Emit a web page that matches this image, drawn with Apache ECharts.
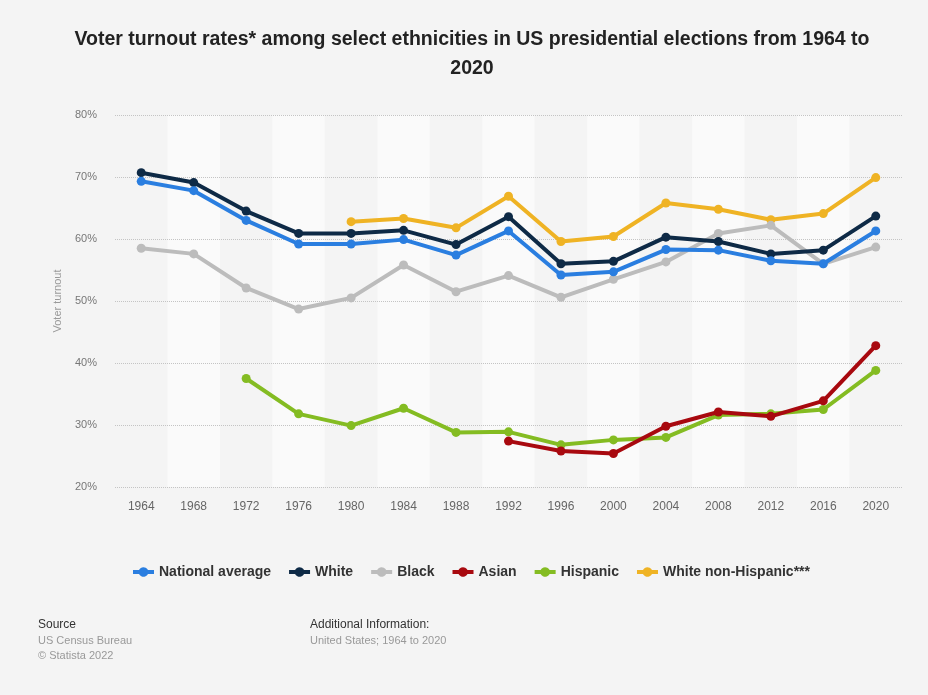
<!DOCTYPE html>
<html><head><meta charset="utf-8">
<script src="https://cdn.jsdelivr.net/npm/echarts@6/dist/echarts.min.js"></script>
<style>html,body{margin:0;padding:0;background:#f4f4f4}#c{width:928px;height:695px}</style>
</head><body><div id="c"></div>
<script>
var years = ['1964','1968','1972','1976','1980','1984','1988','1992','1996','2000','2004','2008','2012','2016','2020'];
var national = [69.3,67.8,63.0,59.2,59.2,59.9,57.4,61.3,54.2,54.7,58.3,58.2,56.5,56.0,61.3];
var white = [70.7,69.1,64.5,60.9,60.9,61.4,59.1,63.6,56.0,56.4,60.3,59.6,57.6,58.2,63.7];
var black = [58.5,57.6,52.1,48.7,50.5,55.8,51.5,54.1,50.6,53.5,56.3,60.9,62.2,56.0,58.7];
var asian = [null,null,null,null,null,null,null,27.4,25.8,25.4,29.8,32.1,31.4,33.9,42.8];
var hispanic = [null,null,37.5,31.8,29.9,32.7,28.8,28.9,26.8,27.6,28.0,31.6,31.8,32.5,38.8];
var whiteNonHisp = [null,null,null,null,62.8,63.3,61.8,66.9,59.6,60.4,65.8,64.8,63.1,64.1,69.9];
var yTicks = ['20%','30%','40%','50%','60%','70%','80%'];

var names = ['National average','White','Black','Asian','Hispanic','White non-Hispanic***'];
var colors = ['#2a7ee0','#0e2a46','#bcbcbc','#a8090f','#84bc22','#efb324'];
var datas = [national,white,black,asian,hispanic,whiteNonHisp];

var chart = echarts.init(document.getElementById('c'));
var series = names.map(function(n,i){
  return {name:n,type:'line',data:datas[i],symbol:'circle',symbolSize:9,
    lineStyle:{width:4,color:colors[i]},itemStyle:{color:colors[i]},connectNulls:false,z:10-i};
});
chart.setOption({
  backgroundColor:'#f4f4f4',
  color:colors,
  animation:false,
  title:{text:'Voter turnout rates* among select ethnicities in US presidential elections from 1964 to\n2020',
    left:467,top:20,textAlign:'center',
    textStyle:{fontFamily:'Liberation Sans',fontWeight:'bold',fontSize:19.5,color:'#222',lineHeight:29}},
  grid:{left:115,right:26,top:115,bottom:208},
  legend:{data:names,top:560,left:128,itemWidth:21,itemHeight:10,itemGap:18,
    icon:'path://M0,3 L6,3 A5,5 0 0 1 15,3 L21,3 L21,7 L15,7 A5,5 0 0 1 6,7 L0,7 Z',
    textStyle:{fontFamily:'Liberation Sans',fontWeight:'bold',fontSize:14,color:'#333'}},
  xAxis:{type:'category',data:years,boundaryGap:true,z:0,
    axisLine:{show:false},axisTick:{show:false},
    axisLabel:{color:'#666',fontSize:12,fontFamily:'Liberation Sans',margin:14},
    splitArea:{show:true,areaStyle:{color:['rgba(244,244,244,1)','rgba(250,250,250,1)']}}},
  yAxis:{type:'value',min:20,max:80,interval:10,z:3,
    name:'Voter turnout',nameLocation:'middle',nameGap:52,
    nameTextStyle:{color:'#999',fontSize:11,fontFamily:'Liberation Sans'},
    axisLine:{show:false},axisTick:{show:false},
    axisLabel:{color:'#777',fontSize:11,fontFamily:'Liberation Sans',margin:18,
      formatter:function(v){return yTicks[Math.round((v-20)/10)];}},
    splitLine:{lineStyle:{type:'dotted',color:'#c4c4c4',width:1}}},
  graphic:[
    {type:'text',left:38,top:619,style:{text:'Source',fontFamily:'Liberation Sans',fontSize:12,fill:'#333'}},
    {type:'text',left:38,top:635,style:{text:'US Census Bureau',fontFamily:'Liberation Sans',fontSize:11,fill:'#999'}},
    {type:'text',left:38,top:650,style:{text:'© Statista 2022',fontFamily:'Liberation Sans',fontSize:11,fill:'#999'}},
    {type:'text',left:310,top:619,style:{text:'Additional Information:',fontFamily:'Liberation Sans',fontSize:12,fill:'#333'}},
    {type:'text',left:310,top:635,style:{text:'United States; 1964 to 2020',fontFamily:'Liberation Sans',fontSize:11,fill:'#999'}}
  ],
  series:series
});
</script></body></html>
